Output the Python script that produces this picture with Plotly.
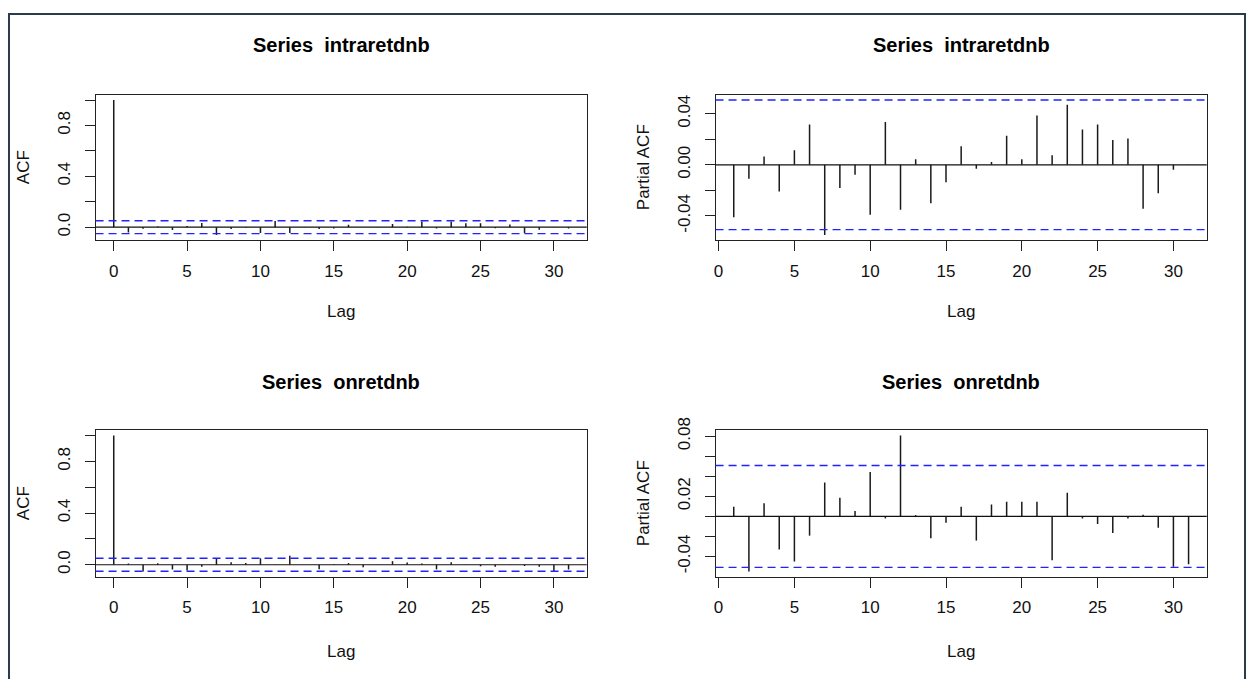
import math
import plotly.graph_objects as go

# ---------------- data ----------------
lags_acf = list(range(0, 32))
lags_pacf = list(range(1, 32))

acf_intra = [1.0, -0.041, -0.013, 0.006, -0.022, 0.010, 0.032, -0.062, -0.015, -0.004,
             -0.045, 0.048, -0.045, 0.002, -0.015, -0.010, 0.020, 0.001, 0.002, 0.025,
             0.003, 0.045, -0.010, 0.045, 0.030, 0.030, -0.008, 0.022, -0.048, -0.020,
             0.002, -0.010]
pacf_intra = [-0.0411, -0.0108, 0.0065, -0.0209, 0.0114, 0.0315, -0.0550, -0.0181, -0.0077,
              -0.0390, 0.0336, -0.0351, 0.0044, -0.0300, -0.0137, 0.0145, -0.0030, 0.0023,
              0.0227, 0.0044, 0.0387, 0.0075, 0.0470, 0.0276, 0.0315, 0.0194, 0.0207,
              -0.0343, -0.0222, -0.0039, 0.0003]
acf_on = [1.0, 0.0096, -0.052, 0.012, -0.036, -0.044, -0.015, 0.044, 0.020, 0.013,
          0.050, -0.002, 0.070, 0.001, -0.034, 0.003, 0.013, -0.020, 0.002, 0.028,
          0.018, 0.010, -0.036, 0.020, -0.002, -0.012, -0.015, 0.002, -0.010, -0.015,
          -0.050, -0.036]
pacf_on = [0.0096, -0.0549, 0.0132, -0.0330, -0.0450, -0.0192, 0.0337, 0.0185, 0.0053,
           0.0443, -0.0020, 0.0806, 0.0013, -0.0218, -0.0063, 0.0096, -0.0241, 0.0119,
           0.0145, 0.0145, 0.0145, -0.0436, 0.0235, -0.0020, -0.0076, -0.0165, -0.0020,
           0.0017, -0.0112, -0.0502, -0.0476]

n_obs = 1490
titles = ["Series\u00a0 intraretdnb", "Series\u00a0 intraretdnb",
          "Series\u00a0 onretdnb", "Series\u00a0 onretdnb"]
ylabels = ["ACF", "Partial ACF", "ACF", "Partial ACF"]
xlabel = "Lag"
xtick_vals = [0, 5, 10, 15, 20, 25, 30]

acf_ticks = [0.0, 0.2, 0.4, 0.6, 0.8, 1.0]
acf_text = ["0.0", "", "0.4", "", "0.8", ""]
pacf1_ticks = [-0.04, -0.02, 0.0, 0.02, 0.04]
pacf1_text = ["-0.04", "", "0.00", "", "0.04"]
pacf2_ticks = [-0.04, -0.02, 0.0, 0.02, 0.04, 0.06, 0.08]
pacf2_text = ["-0.04", "", "", "0.02", "", "", "0.08"]

# ---------------- layout geometry (pixels) ----------------
W, H = 1251, 679
col_x = [(93.7, 585.7), (714.7, 1206.7)]
row_y = [(83.2, 231.9), (425.3, 574.9)]
title_y = [33.0, 376.7]
lag_y = [303.9, 651.3]

def px_x(p):
    return p / W

def px_y(p):
    return 1 - p / H

clim = 1.96 / math.sqrt(n_obs)

def rrange(vals, extra):
    allv = list(vals) + list(extra)
    lo = min(allv)
    hi = max(allv)
    d = (hi - lo) * 0.04
    return [lo - d, hi + d]

panels = [
    (lags_acf, acf_intra, acf_ticks, acf_text, 0, 0),
    (lags_pacf, pacf_intra, pacf1_ticks, pacf1_text, 0, 1),
    (lags_acf, acf_on, acf_ticks, acf_text, 1, 0),
    (lags_pacf, pacf_on, pacf2_ticks, pacf2_text, 1, 1),
]

fig = go.Figure()
font_family = "Liberation Sans, Arial, sans-serif"
axis_col = "#222222"
shapes = []
annotations = []

for i, (lags, vals, yt, ytt, r, c) in enumerate(panels):
    k = i + 1
    xa = "x" if k == 1 else f"x{k}"
    ya = "y" if k == 1 else f"y{k}"
    xs, ys = [], []
    for lg, v in zip(lags, vals):
        xs += [lg, lg, None]
        ys += [0, v, None]
    fig.add_trace(go.Scatter(x=xs, y=ys, mode="lines", xaxis=xa, yaxis=ya,
                             line=dict(color="#1a1a1a", width=1.5),
                             showlegend=False, hoverinfo="skip"))
    x0, x1 = col_x[c]
    y0, y1 = row_y[r]
    xr = rrange(lags, [])
    yr = rrange(vals, [-clim, clim])
    common = dict(showline=True, linecolor=axis_col, linewidth=1, mirror=True,
                  ticks="outside", ticklen=10, tickwidth=1, tickcolor=axis_col,
                  showgrid=False, zeroline=False,
                  tickfont=dict(family=font_family, size=17, color="#111"))
    fig.layout[("xaxis" if k == 1 else f"xaxis{k}")] = dict(
        domain=[px_x(x0), px_x(x1)], range=xr, anchor=ya,
        tickmode="array", tickvals=xtick_vals,
        ticktext=[str(v) for v in xtick_vals], ticklabelstandoff=5, **common)
    fig.layout[("yaxis" if k == 1 else f"yaxis{k}")] = dict(
        domain=[px_y(y1), px_y(y0)], range=yr, anchor=xa,
        tickmode="array", tickvals=yt, ticktext=ytt, tickangle=-90,
        ticklabelstandoff=8, **common)
    # zero line and confidence bounds
    shapes.append(dict(type="line", xref=f"{xa} domain", yref=ya, x0=0, x1=1, y0=0, y1=0,
                       line=dict(color="#111", width=1.2)))
    for s in (clim, -clim):
        shapes.append(dict(type="line", xref=f"{xa} domain", yref=ya, x0=0, x1=1, y0=s, y1=s,
                           line=dict(color="#2222ff", width=1.4, dash="8px,5px")))
    # titles and axis labels
    cx = (x0 + x1) / 2
    annotations.append(dict(text=f"<b>{titles[i]}</b>", x=px_x(cx), y=px_y(title_y[r]),
                            xref="paper", yref="paper", showarrow=False,
                            xanchor="center", yanchor="middle",
                            font=dict(family=font_family, size=20, color="#000")))
    annotations.append(dict(text=xlabel, x=px_x(cx), y=px_y(lag_y[r]), xref="paper", yref="paper",
                            showarrow=False, xanchor="center", yanchor="middle",
                            font=dict(family=font_family, size=17, color="#111")))
    annotations.append(dict(text=ylabels[i], x=px_x(x0 - 72), y=px_y((y0 + y1) / 2),
                            xref="paper", yref="paper", showarrow=False, textangle=-90,
                            xanchor="center", yanchor="middle",
                            font=dict(family=font_family, size=17, color="#111")))

# outer frame
shapes.append(dict(type="rect", xref="paper", yref="paper",
                   x0=px_x(7), x1=px_x(1245), y0=px_y(700), y1=px_y(1),
                   line=dict(color="#2b3b4c", width=2)))

fig.update_layout(width=W, height=H, margin=dict(l=0, r=0, t=0, b=0),
                  paper_bgcolor="white", plot_bgcolor="white",
                  shapes=shapes, annotations=annotations)

fig.write_html("out.html")
